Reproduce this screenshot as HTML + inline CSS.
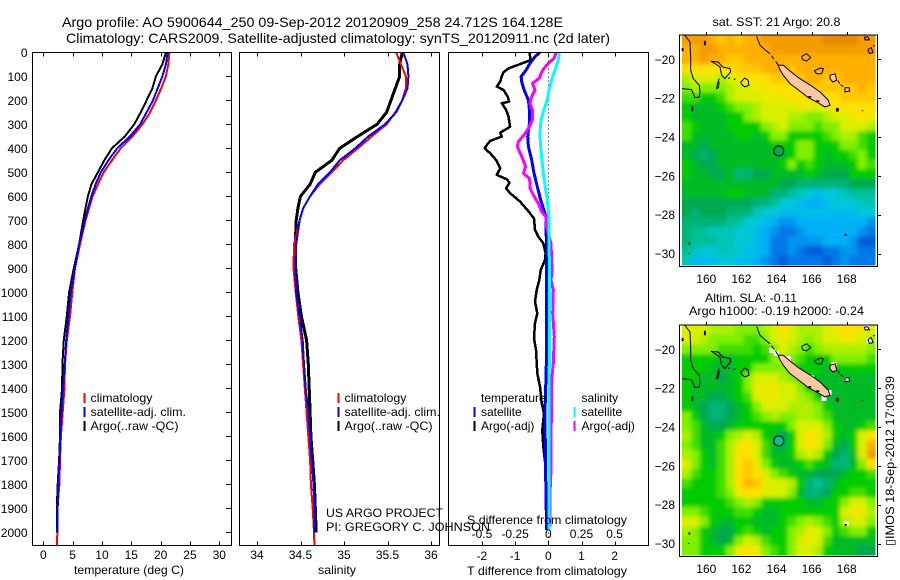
<!DOCTYPE html>
<html>
<head>
<meta charset="utf-8">
<title>Argo profile</title>
<style>
html,body{margin:0;padding:0;background:#fff;}
svg{display:block;}
text{font-family:"Liberation Sans",sans-serif;font-size:12px;fill:#000;}
</style>
</head>
<body>
<svg id="chart" xmlns="http://www.w3.org/2000/svg" width="900" height="580" viewBox="0 0 900 580">
<defs><filter id="soft" x="0" y="0" width="1" height="1"><feGaussianBlur stdDeviation="2.2"/></filter></defs>
<rect x="0" y="0" width="900" height="580" fill="#fff"/>
<g id="marks"></g>
<text x="62" y="27" style="font-size:14px" textLength="501" lengthAdjust="spacingAndGlyphs">Argo profile: AO 5900644_250 09-Sep-2012 20120909_258 24.712S 164.128E</text>
<text x="66" y="43" style="font-size:14px" textLength="544" lengthAdjust="spacingAndGlyphs">Climatology: CARS2009. Satellite-adjusted climatology: synTS_20120911.nc (2d later)</text>
<text x="74" y="574" textLength="110" lengthAdjust="spacingAndGlyphs">temperature (deg C)</text>
<text x="318" y="574" textLength="38" lengthAdjust="spacingAndGlyphs">salinity</text>
<text x="467" y="575" textLength="160" lengthAdjust="spacingAndGlyphs">T difference from climatology</text>
<text x="467" y="524" textLength="160" lengthAdjust="spacingAndGlyphs">S difference from climatology</text>
<text x="90.5" y="402" textLength="62" lengthAdjust="spacingAndGlyphs">climatology</text>
<text x="90.5" y="416" textLength="95.5" lengthAdjust="spacingAndGlyphs">satellite-adj. clim.</text>
<text x="90.5" y="430" textLength="88" lengthAdjust="spacingAndGlyphs">Argo(..raw -QC)</text>
<text x="344.5" y="402" textLength="62" lengthAdjust="spacingAndGlyphs">climatology</text>
<text x="344.5" y="416" textLength="95.5" lengthAdjust="spacingAndGlyphs">satellite-adj. clim.</text>
<text x="344.5" y="430" textLength="88" lengthAdjust="spacingAndGlyphs">Argo(..raw -QC)</text>
<text x="326" y="517" textLength="117" lengthAdjust="spacingAndGlyphs">US ARGO PROJECT</text>
<text x="326" y="531" textLength="164" lengthAdjust="spacingAndGlyphs">PI: GREGORY C. JOHNSON</text>
<text x="481" y="402">temperature</text>
<text x="481" y="416">satellite</text>
<text x="481" y="430">Argo(-adj)</text>
<text x="581.5" y="402">salinity</text>
<text x="581.5" y="416">satellite</text>
<text x="581.5" y="430">Argo(-adj)</text>
<text x="712.5" y="26" textLength="128" lengthAdjust="spacingAndGlyphs">sat. SST: 21  Argo: 20.8</text>
<text x="705" y="302" textLength="92" lengthAdjust="spacingAndGlyphs">Altim. SLA: -0.11</text>
<text x="689" y="315" textLength="175" lengthAdjust="spacingAndGlyphs">Argo h1000: -0.19 h2000: -0.24</text>
<text transform="translate(894,546) rotate(-90)" x="0" y="0" textLength="170" lengthAdjust="spacingAndGlyphs">▯IMOS 18-Sep-2012 17:00:39</text>
</svg>
<script>
// ---- profile data ----
const tempTicks = [0,5,10,15,20,25,30];
const salTicks = [34,34.5,35,35.5,36];
const tDiffTicks = [-2,-1,0,1,2];
const sDiffTicks = [-0.5,-0.25,0,0.25,0.5];
const sDiffTickLabels = ['-0.5','-0.25','0','0.25','0.5'];
const depthTicks = [0,100,200,300,400,500,600,700,800,900,1000,1100,1200,1300,1400,1500,1600,1700,1800,1900,2000];
const depths = [0,50,100,150,200,250,300,350,400,450,500,550,600,650,700,800,900,1000,1100,1200,1300,1400,1500,1600,1700,1800,1900,2000,2054];
const tempClim = [21.5,21.3,20.9,20.1,19.2,18.2,16.9,15.2,13.2,11.7,10.3,9.3,8.4,7.8,7.2,6.25,5.4,4.95,4.55,4.0,3.7,3.6,3.3,3.0,2.85,2.75,2.4,2.4,2.3];
const tempSat = [21.2,20.9,20.3,19.5,18.7,17.6,16.5,14.8,12.6,11.1,9.8,8.9,8.2,7.6,7.1,6.1,5.35,4.67,4.3,3.9,3.65,3.35,3.1,2.9,2.75,2.55,2.45,2.4,null];
const tempArgo = [20.9,20.3,19.2,18.6,17.6,16.6,15.5,13.9,11.7,10.4,9.3,8.2,7.6,7.2,6.8,6.1,5.2,4.4,4.0,3.5,3.25,3.2,2.85,2.85,2.7,2.45,2.3,2.3,null];
const salClim = [35.6,35.655,35.71,35.71,35.67,35.59,35.49,35.32,35.16,34.99,34.86,34.72,34.61,34.53,34.49,34.425,34.42,34.445,34.475,34.51,34.53,34.55,34.57,34.59,34.61,34.62,34.64,34.655,34.66];
const salSat = [35.68,35.73,35.74,35.73,35.67,35.6,35.47,35.28,35.13,34.95,34.84,34.7,34.61,34.53,34.49,34.45,34.44,34.45,34.49,34.525,34.54,34.56,34.59,34.61,34.63,34.65,34.66,34.66,null];
const salArgo = [35.67,35.64,35.64,35.59,35.54,35.49,35.38,35.16,34.95,34.86,34.67,34.61,34.5,34.47,34.45,34.44,34.445,34.47,34.51,34.57,34.59,34.6,34.61,34.62,34.64,34.66,34.67,34.68,null];

const tArgoDepth = [0,32,49,67,83,101,122,143,157,185,206,212,240,268,310,335,351,369,386,400,421,449,483,511,529,543,567,587,622,657,692,740,768,796,837,865,907,949,990,1039,1088,1129,1192,1240,1338,1393,1463,1504,1574,1643,1727,1851,1976];
const tArgoDiff = [-0.57,-0.53,-0.85,-1.2,-1.35,-1.4,-1.45,-1.55,-1.35,-1.22,-1.18,-1.4,-1.27,-1.2,-1.15,-1.45,-1.4,-1.75,-1.85,-1.92,-1.75,-1.57,-1.45,-1.55,-1.25,-1.17,-1.27,-1.15,-0.85,-0.63,-0.43,-0.4,-0.3,-0.15,-0.08,-0.1,-0.23,-0.27,-0.35,-0.4,-0.33,-0.4,-0.43,-0.37,-0.33,-0.25,-0.2,-0.13,-0.18,-0.15,-0.08,-0.07,-0.07];
const tSatDepth = [0,18,46,74,101,122,157,199,240,296,351,393,449,504,560,615,685,782,949,1300,1500,1750,1990];
const tSatDiff = [-0.25,-0.4,-0.55,-0.67,-0.82,-0.8,-0.73,-0.6,-0.57,-0.57,-0.62,-0.6,-0.5,-0.43,-0.33,-0.23,-0.07,-0.06,-0.06,-0.06,-0.1,-0.08,-0.05];
const sSatDepth = [0,32,74,115,157,199,240,282,338,393,449,504,560,615,685,949,1990];
const sSatDiff = [0.083,0.075,0.05,0.025,0.005,-0.008,-0.033,-0.055,-0.063,-0.058,-0.048,-0.038,-0.023,-0.008,0.005,0.008,0.005];
const sArgoDepth = [0,25,46,67,88,108,129,157,185,213,240,282,317,344,372,393,435,476,504,525,546,567,594,629,664,685,726,796,907,949,990,1088,1185,1296,1365,1504,1574,1740,1838,1976];
const sArgoDiff = [0.058,0.043,0,-0.033,-0.055,-0.068,-0.118,-0.1,-0.125,-0.138,-0.12,-0.12,-0.15,-0.183,-0.225,-0.233,-0.2,-0.17,-0.188,-0.143,-0.138,-0.138,-0.113,-0.075,-0.05,-0.018,-0.013,0.02,0.028,0.02,0.038,0.033,0.045,0.038,0.025,0.025,0.02,0.02,0.0125,0.0125];

// ---- map data (colour-scale level per 0.5-degree cell) ----
const lonTicks = [160,162,164,166,168];
const latTicks = [-20,-22,-24,-26,-28,-30];
const sstGrid = [
[10.5,10.5,10.5,10,9.5,10,9.5,10,10,10.5,10.5,10.5,10.5,10.5,10.5,10.5,11,11,11,11,10.5,10.5],
[10,10,10.5,10.5,10,10,10,10,10,10,10.5,10.5,10.5,10.5,10.5,10.5,10.5,10.5,10.5,10.5,10.5,10.5],
[10,10,10.5,10,10,9.5,9.5,10,10,10,10,10,10,10,10,10,10,10,10,10,10,10],
[9,9,9,9,9,9,9.5,9.5,9.5,10,10,10,9.5,10,10,10,10,10,10,10,10,10],
[7.5,8,8,8,7.5,8,8.5,9,9,9,9.5,9.5,9.5,9.5,10,10,9.5,9.5,10,10,10,10],
[7,7.5,7,7,7,7.5,8,8,8.5,8.5,9,9,9,9,9.5,9.5,9.5,9.5,9.5,9.5,10,9.5],
[6.5,6.5,6,6,6.5,7.5,8,8,8,8.5,8.5,8.5,9,9,9,9,9,9,9.5,9.5,9.5,9.5],
[6,5.5,5.5,5.5,6,6.5,7,7,7.5,8,8,8,8,8.5,8.5,8,8.5,9,9,9,9,9],
[6,5.5,5.5,5.5,5.5,6,6,7,7.5,8,8,8,7.5,7.5,7,7,7.5,8,8,8.5,9,8.5],
[6.5,6,5.5,5.5,5.5,6,6,6,6,7,7.5,8,7,7,7,6.5,7,7,8,8,8,7.5],
[6.5,5.5,5.5,5.5,5.5,5.5,6,6,5.5,6,7,7,6,6,6,6,6.5,7,7.5,7.5,6.5,6],
[5.5,5.5,5,5.5,5.5,5.5,5.5,5.5,5.5,5.5,6,6,6,7,7,6,6,6,7,7,6.5,6],
[5.5,5,4.5,5,5.5,5.5,5.5,5.5,5.5,5.5,5.5,5.5,6,7,7,6,5.5,6,6,6.5,7,6],
[6,5.5,5,5,5.5,5.5,5.5,5.5,5.5,5.5,5.5,6,7,6,6.5,6,5.5,5.5,5.5,6,7,6.5],
[6,5.5,5.5,5,5,5.5,4.5,4.5,5,5,5.5,5.5,5.5,5.5,6,5.5,5,5,5,6,6,6],
[5.5,5.5,5.5,5.5,5.5,5.5,5.5,5.5,5.5,5.5,5.5,5,5,4.5,4.5,4.5,4.5,4.5,4.5,5,5,5],
[5.5,5.5,5.5,5.5,5.5,6,6,5.5,5.5,5.5,4.5,4.5,4,3.5,3,2.5,3,3,3.5,4,4,4],
[5,5,5,5,5,5,5,5,4.5,4.5,4,3,3,2.5,2,2,2.5,3,3,3,3.5,3.5],
[5,4.5,5,5,5,4.5,4.5,4.5,3.5,3,3,2.5,2.5,2.5,2.5,2.5,2.5,2.5,2.5,2.5,3,3],
[4.5,4.5,4.5,4.5,4.5,4,4,3,3,2.5,2,1.5,1.5,2,2,2,2,2,2,2,2,1.5],
[4.5,4,4,3.5,3.5,3.5,3,3,2.5,2,1.5,1,1,1.5,2,2,2,2,2,2,1.5,1],
[4.5,4,4,4,3.5,3.5,3,3,2.5,2,1,1,1.5,1.5,1.5,1.5,2,2,2,1.5,0.5,0.5],
[4,3.5,3,3,3.5,3.5,3,2.5,2.5,2,1,1,1.5,1,0.5,0.5,1,1,1.5,1.5,1,1],
[3.5,2.5,2.5,2.5,3,3,2.5,2.5,2,1.5,1,0.5,1,1,1,1,0.5,1,1.5,1,1,1]
];
const slaGrid = [
[8,8,8,7.5,7.5,7.5,7,7,7,7.5,8,9,8,7.5,7.5,7.5,8,8.5,9,9,8.5,8],
[8,8,7.5,7,7,7,7,6.5,6.5,7,8,8.5,8,7.5,7,7.5,8,8,8.5,8.5,8,7.5],
[7,7,7,7,6.5,6.5,6.5,6.5,6,6.5,7,8,7.5,7,6.5,7,7.5,7.5,7.5,7.5,7.5,7],
[6,6,6,6,5.5,5.5,6,6,6,6,7,7.5,7,6.5,6,6,6,7,7,7,7,6.5],
[6,6,6,5.5,5.5,5.5,6,6,7,7,7,7,6.5,6,6,6,5.5,6,6,6,6,6],
[6,6,5.5,5.5,5,5.5,6,7,8,8,8,7.5,7,6.5,6,5.5,5.5,5.5,5.5,5.5,5.5,5.5],
[6,5.5,5.5,5.5,5.5,5.5,6,7,8.5,8.5,8.5,8,8,7,6,5.5,5.5,5.5,5.5,5.5,5.5,5.5],
[6,5.5,5.5,5,5,5.5,6,6.5,8,8.5,8.5,8,8,7.5,7,6,5.5,5.5,5.5,5.5,5.5,5.5],
[6,5.5,5,4.5,4.5,5,5.5,6,7,8,8,8,7.5,7.5,7.5,7,6,5.5,5.5,5.5,5.5,5.5],
[7,6,5,4.5,4.5,5,5.5,6,6.5,7,7.5,7,7,7.5,7.5,7,6.5,5.5,5.5,5.5,5.5,5.5],
[7,6.5,5.5,5,5,5.5,6,6,6,6,6,6,7,8,8,8,7,6,5.5,5.5,6,6.5],
[7.5,6.5,5.5,5.5,6,7,7.5,8,7.5,6,5.5,5,6,8,9,8.5,7.5,6,5.5,6,8,9],
[7,6.5,5.5,5.5,6.5,7.5,8.5,9,8,6.5,5.5,5,6,8,9,8.5,7,5.5,5,6,8,10],
[7.5,7,6,5.5,6.5,7.5,9,9,8,6.5,5.5,5.5,6,7.5,8,7.5,6,5,4.5,5.5,8,10.5],
[8,7,6,5.5,6.5,7.5,9,9.5,8.5,7,6,5.5,5.5,6,6.5,6,5.5,4.5,4.5,5.5,7,9],
[7.5,6.5,6,6,6.5,7.5,9,9.5,9,8,7,6.5,6,5.5,5.5,5,5,5,5.5,6,6,6.5],
[6.5,6,6,6,6.5,7.5,9,10,9.5,8.5,8,8,7.5,6,4.5,4,4.5,5.5,6,6,6,6],
[6,6,6,6,6.5,7,8.5,9,9,8,8,8,7,5.5,4.5,4.5,5,6,6,6.5,6.5,6],
[6,6,6,6,6,6.5,7,7.5,7,6,6,6,6,6,5.5,5.5,6,6,7,8,8,7],
[7,7,6.5,6,6,6,6.5,6.5,6,5.5,5.5,6,6,6,6,6,6,6,8,8.5,8.5,7.5],
[8,8,7,6,5.5,5.5,6,6,5.5,5.5,5.5,6,6.5,7,7.5,7,6.5,6,7.5,8,8,7],
[7.5,7,6,5.5,5,5,6,6.5,6,5.5,6,6,7,7.5,8.5,8,7,6,6.5,7,7,6],
[7,7,6,5.5,5,5.5,7,8,7.5,6.5,6,6,7,8,8.5,8,6.5,5.5,5.5,5.5,5.5,5.5],
[7,7,6,6,6,7,8.5,9,8.5,7,6.5,6,7,8,8,7.5,6,5.5,5.5,5.5,5,5]
];
const colorStops = ['#0040c8','#0078e8','#00b0f8','#00c8d8','#00c098','#00a850','#00cc00','#80f000','#d8f000','#ffe000','#ffb000','#e88800'];
const argoLon = 164.128;
const argoLat = -24.712;
const argoSstLevel = 5;
const argoSlaLevel = 4;
// coastlines as lon/lat vertices
const coastLines = [
[[158.78,-18.77],[159.07,-19.11],[159.11,-19.97],[159.11,-20.57],[159.26,-21],[159.6,-21.34],[159.64,-21.68],[159.6,-21.94],[159.35,-21.97],[159.16,-21.56],[158.62,-21.51]],
[[160.27,-20.1],[160.68,-20.14],[160.93,-20.39],[161.35,-20.48],[161.39,-20.65],[161.06,-20.99],[160.87,-20.82],[160.78,-20.39],[160.49,-20.22],[160.27,-20.1]],
[[160.74,-21],[160.63,-21.25],[160.59,-21.51],[160.68,-21.46],[160.74,-21.16]],
[[161.96,-21.17],[162.2,-20.96],[162.39,-21.08],[162.43,-21.34],[162.2,-21.42],[162.01,-21.29],[161.96,-21.17]],
[[161.25,-21],[161.35,-20.94]],
[[161.57,-21.04],[161.66,-21]],
[[162.87,-18.82],[163.06,-19.28],[163.34,-19.5],[163.63,-19.71]],
[[163.72,-19.82],[163.85,-20.0]],
[[163.95,-20.1],[164.1,-20.31]],
[[165.43,-19.85],[165.72,-19.71],[165.95,-19.91],[165.72,-20.09],[165.49,-20.02],[165.43,-19.85]],
[[166.15,-20.6],[166.48,-20.45],[166.67,-20.48],[166.57,-20.74],[166.29,-20.74],[166.15,-20.6]],
[[167.5,-21.1],[167.6,-21.25]],
[[167.65,-21.3],[167.8,-21.4]],
[[169,-18.85],[169.2,-18.85],[169.3,-19],[169.05,-19],[169,-18.85]],
[[169.2,-19.5],[169.4,-19.4],[169.5,-19.65],[169.3,-19.7],[169.2,-19.5]]
];
const landPolys = [
[[164.1,-20.31],[164.39,-20.31],[164.77,-20.6],[165.24,-20.94],[165.91,-21.32],[166.48,-21.68],[166.95,-22.11],[167.05,-22.37],[166.76,-22.45],[166.29,-22.2],[165.81,-21.97],[165.15,-21.51],[164.77,-21.25],[164.39,-20.82],[164.16,-20.48]],
[[167.05,-20.82],[167.34,-20.74],[167.43,-21.08],[167.2,-21.17],[167.05,-21]],
[[167.9,-21.46],[168.13,-21.46],[168.17,-21.63],[167.9,-21.68]]
];
const reefBlobs = [[159.92,-19.16,1,2.5],[159.2,-22.55,1,2.5],[167.47,-22.6,1.5,2],[168.9,-22.65,0.6,0.6],[159.03,-29.48,1,1.3],[159.01,-30,0.8,0.5],[167.94,-29.04,1.2,1.2],[169.55,-19.3,0.8,0.8],[158.65,-19.5,1,1.8],[165.9,-21.93,1.8,0.8],[166.35,-22.15,2,0.9]];
// 0.25-degree cells with no altimetry data (white on the SLA map)
const slaMissingCells = [[163.72,-20.05],[164,-20.22],[164.67,-20.48],[165.34,-21.17],[165.34,-21.46],[166,-21.46],[166.7,-22.32],[166.7,-22.54],[167,-22.23],[167.27,-20.77],[168,-21.56],[169.14,-18.88],[169.27,-19.54],[167.96,-28.97]];

// ---- helpers ----
const SVGNS = 'http://www.w3.org/2000/svg';
const marksGroup = document.getElementById('marks');
function mk(tag, attrs, parent){
  const el = document.createElementNS(SVGNS, tag);
  for (const k in attrs) el.setAttribute(k, attrs[k]);
  (parent || marksGroup).appendChild(el);
  return el;
}
const yDepth = d => 52.3 + 0.24 * d;
const xTemp = v => 43.3 + 5.867 * v;
const xSal = v => 257 + 87 * (v - 34);
const xTDiff = v => 548.3 + 33.2 * v;
const xSDiff = v => 548.3 + 132.7 * v;
const lonX = lon => 706.3 + 17.55 * (lon - 160);
const latY = (lat, off) => 59.3 + off - 19.43 * (lat + 20);
function level2color(v){
  const c = Math.max(0, Math.min(colorStops.length - 1, v));
  const i = Math.min(colorStops.length - 2, Math.floor(c));
  const f = c - i;
  const a = colorStops[i], b = colorStops[i + 1];
  const ch = p => Math.round(parseInt(a.substr(p, 2), 16) * (1 - f) + parseInt(b.substr(p, 2), 16) * f);
  return 'rgb(' + ch(1) + ',' + ch(3) + ',' + ch(5) + ')';
}
function profile(name, xs, ds, xf, color, w){
  let pts = '';
  for (let i = 0; i < xs.length; i++) {
    if (xs[i] === null || xs[i] === undefined) continue;
    pts += xf(xs[i]).toFixed(1) + ',' + yDepth(ds[i]).toFixed(1) + ' ';
  }
  const el = mk('polyline', {points: pts, fill: 'none', stroke: color, 'stroke-width': w, 'shape-rendering': 'crispEdges', 'stroke-linejoin': 'round'});
  
  
  return el;
}
function label(name, str, x, y, anchor){
  const el = mk('text', {x: x, y: y, 'text-anchor': anchor});
  el.textContent = str;
  
  
}
function tick(name, x1, y1, x2, y2){
  const el = mk('line', {x1: x1, y1: y1, x2: x2, y2: y2, stroke: '#000', 'stroke-width': 1, 'shape-rendering': 'crispEdges'});
  
  
}
function frame(name, x, y, w, h){
  const el = mk('rect', {x: x, y: y, width: w, height: h, fill: 'none', stroke: '#000', 'stroke-width': 1, 'shape-rendering': 'crispEdges'});
  
  
}
function legendBar(name, x, y, color){
  const el = mk('rect', {x: x, y: y, width: 2, height: 10, fill: color});
  
  
}

// ---- profile panels ----
const panelTop = 52.5, panelBottom = 545.5;
profile('temperature-argo-line', tempArgo, depths, xTemp, '#000', 2);
profile('temperature-climatology-line', tempClim, depths, xTemp, '#f00', 2);
profile('temperature-satellite-line', tempSat, depths, xTemp, '#00f', 2);
profile('salinity-argo-line', salArgo, depths, xSal, '#000', 3);
profile('salinity-climatology-line', salClim, depths, xSal, '#f00', 2);
profile('salinity-satellite-line', salSat, depths, xSal, '#00f', 2);

const zeroLine = mk('line', {x1: xTDiff(0), y1: yDepth(0), x2: xTDiff(0), y2: yDepth(2054), stroke: '#000', 'stroke-width': 1, 'stroke-dasharray': '1 3', 'shape-rendering': 'crispEdges'});


profile('t-diff-argo-line', tArgoDiff, tArgoDepth, xTDiff, '#000', 2.5);
profile('t-diff-satellite-line', tSatDiff, tSatDepth, xTDiff, '#00f', 3);
profile('s-diff-argo-line', sArgoDiff, sArgoDepth, xSDiff, '#f0f', 3);
profile('s-diff-satellite-line', sSatDiff, sSatDepth, xSDiff, '#0ff', 3);

frame('temperature-panel-frame', 32.5, panelTop, 199, panelBottom - panelTop);
frame('salinity-panel-frame', 239.5, panelTop, 200, panelBottom - panelTop);
frame('difference-panel-frame', 448.5, panelTop, 200, panelBottom - panelTop);

tempTicks.forEach(v => {
  const x = Math.round(xTemp(v)) + 0.5;
  tick('temperature-top-tick', x, panelTop, x, panelTop + 4);
  tick('temperature-bottom-tick', x, panelBottom, x, panelBottom - 4);
  label('temperature-tick-label', String(v), xTemp(v), 559, 'middle');
});
salTicks.forEach(v => {
  const x = Math.round(xSal(v)) + 0.5;
  tick('salinity-top-tick', x, panelTop, x, panelTop + 4);
  tick('salinity-bottom-tick', x, panelBottom, x, panelBottom - 4);
  label('salinity-tick-label', String(v), xSal(v), 559, 'middle');
});
tDiffTicks.forEach(v => {
  const x = Math.round(xTDiff(v)) + 0.5;
  tick('difference-top-tick', x, panelTop, x, panelTop + 4);
  tick('difference-bottom-tick', x, panelBottom, x, panelBottom - 4);
  label('t-diff-tick-label', String(v), xTDiff(v), 560, 'middle');
});
sDiffTicks.forEach((v, i) => {
  label('s-diff-tick-label', sDiffTickLabels[i], xSDiff(v), 538, 'middle');
});
depthTicks.forEach(d => {
  const y = Math.round(yDepth(d)) + 0.5;
  tick('depth-tick', 231.5, y, 226, y);
  label('depth-tick-label', String(d), 27.5, yDepth(d) + 4.5, 'end');
});

legendBar('legend-bar-climatology-t', 83.5, 393, '#f00');
legendBar('legend-bar-satellite-t', 83.5, 407, '#00f');
legendBar('legend-bar-argo-t', 83.5, 421, '#000');
legendBar('legend-bar-climatology-s', 337.5, 393, '#f00');
legendBar('legend-bar-satellite-s', 337.5, 407, '#00f');
legendBar('legend-bar-argo-s', 337.5, 421, '#000');
legendBar('legend-bar-t-satellite', 473.5, 407, '#00f');
legendBar('legend-bar-t-argo', 473.5, 421, '#000');
legendBar('legend-bar-s-satellite', 573.5, 407, '#0ff');
legendBar('legend-bar-s-argo', 573.5, 421, '#f0f');

// ---- maps ----
const lon0 = 158.62, lonStep = 0.5, lat0 = -18.75, latStep = 0.4933;
function drawMap(prefix, grid, off, argoLevel, missing){
  const g = mk('g', {});
  
  
  const cells = mk('g', {}, g);
  
  
  grid.forEach((row, r) => {
    row.forEach((v, c) => {
      const x0 = lonX(lon0 + c * lonStep), x1 = lonX(lon0 + (c + 1) * lonStep);
      const y0 = latY(lat0 - r * latStep, off), y1 = latY(lat0 - (r + 1) * latStep, off);
      const cell = mk('rect', {x: x0.toFixed(1), y: y0.toFixed(1), width: (x1 - x0 + 0.3).toFixed(1), height: (y1 - y0 + 0.3).toFixed(1), fill: level2color(v), 'shape-rendering': 'crispEdges'}, cells);
      
      
    });
  });
  const softened = cells.cloneNode(true);
  softened.setAttribute('filter', 'url(#soft)');
  
  g.appendChild(softened);
  missing.forEach(p => {
    const hole = mk('rect', {x: (lonX(p[0]) - 2.5).toFixed(1), y: (latY(p[1], off) - 2.5).toFixed(1), width: 5, height: 5, fill: '#fff', 'shape-rendering': 'crispEdges'}, g);
    
    
  });
  landPolys.forEach(poly => {
    const pts = poly.map(p => lonX(p[0]).toFixed(1) + ',' + latY(p[1], off).toFixed(1)).join(' ');
    const land = mk('polygon', {points: pts, fill: '#ffc8a0', stroke: '#000', 'stroke-width': 1}, g);
    
    
  });
  coastLines.forEach(line => {
    const pts = line.map(p => lonX(p[0]).toFixed(1) + ',' + latY(p[1], off).toFixed(1)).join(' ');
    const cl = mk('polyline', {points: pts, fill: 'none', stroke: '#000', 'stroke-width': 1}, g);
    
    
  });
  reefBlobs.forEach(b => {
    const blob = mk('ellipse', {cx: lonX(b[0]).toFixed(1), cy: latY(b[1], off).toFixed(1), rx: b[2], ry: b[3], fill: '#000'}, g);
    
    
  });
  const marker = mk('circle', {cx: lonX(argoLon), cy: latY(argoLat, off), r: 5, fill: level2color(argoLevel), stroke: '#000', 'stroke-width': 1}, g);
  
  
  const boxTop = 35 + off;
  frame(prefix + '-map-frame', 679.5, boxTop, 198, 231.5);
  lonTicks.forEach(v => {
    const x = Math.round(lonX(v)) + 0.5;
    tick(prefix + '-lon-tick', x, boxTop, x, boxTop - 3);
    label(prefix + '-lon-label', String(v), lonX(v), 283 + off, 'middle');
  });
  latTicks.forEach(v => {
    const y = Math.round(latY(v, off)) + 0.5;
    tick(prefix + '-lat-tick', 877.5, y, 881, y);
    label(prefix + '-lat-label', '\u2212' + Math.abs(v), 675, latY(v, off) + 4.5, 'end');
  });
}
drawMap('sst', sstGrid, 0, argoSstLevel, []);
drawMap('sla', slaGrid, 290, argoSlaLevel, slaMissingCells);
</script>
</body>
</html>
